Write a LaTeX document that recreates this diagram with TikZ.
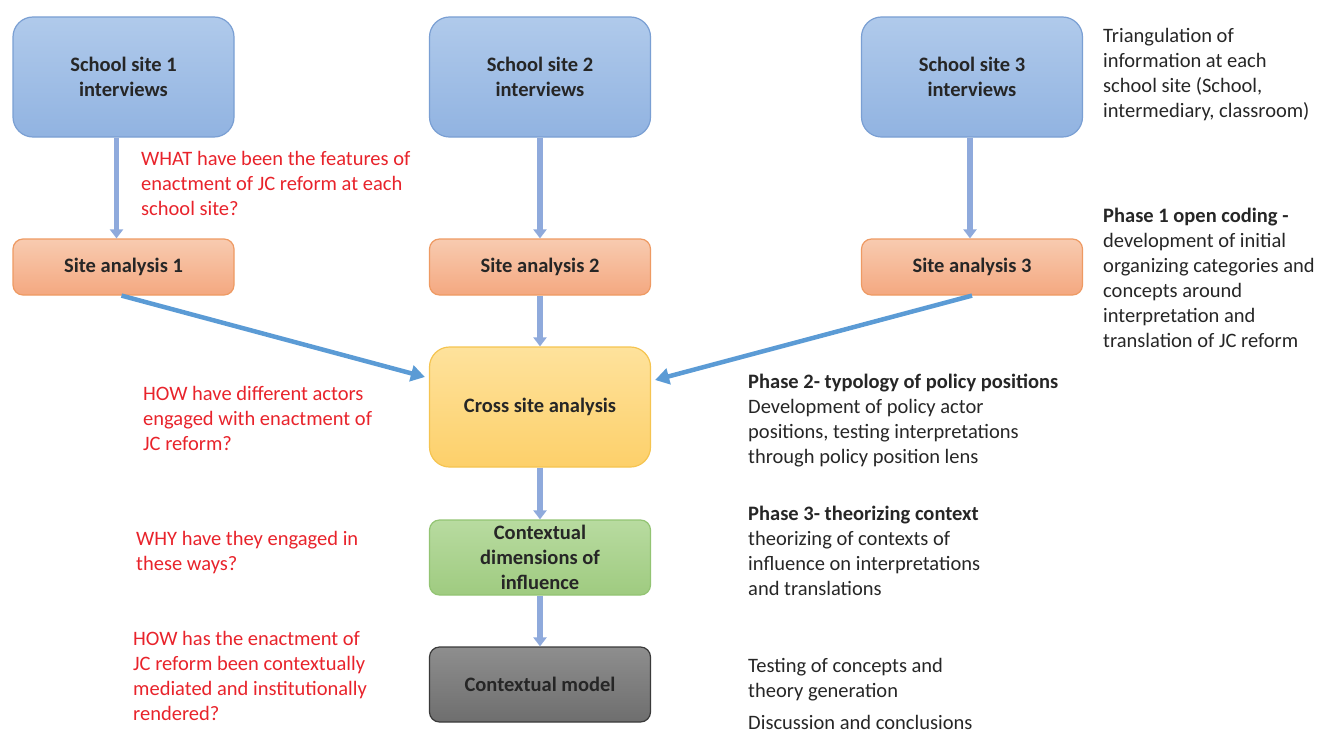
\documentclass[tikz,border=0pt]{standalone}
\usepackage{fontspec}
\setmainfont{Carlito}
\usetikzlibrary{arrows.meta}
\definecolor{txt}{HTML}{262626}
\definecolor{qred}{HTML}{E8232B}
\definecolor{bluetop}{HTML}{B0CAEB}
\definecolor{bluebot}{HTML}{91B3E1}
\definecolor{blueedge}{HTML}{7A9FD3}
\definecolor{ortop}{HTML}{F8CBB0}
\definecolor{orbot}{HTML}{F4A880}
\definecolor{oredge}{HTML}{EE9A63}
\definecolor{yetop}{HTML}{FEE29C}
\definecolor{yebot}{HTML}{FDD06A}
\definecolor{yeedge}{HTML}{F5C450}
\definecolor{grtop}{HTML}{B8DBA0}
\definecolor{grbot}{HTML}{9FCB80}
\definecolor{gredge}{HTML}{93C473}
\definecolor{gytop}{HTML}{8E8E8E}
\definecolor{gybot}{HTML}{6E6E6E}
\definecolor{gyedge}{HTML}{3A3A3A}
\definecolor{varrow}{HTML}{8FAADC}
\definecolor{darrow}{HTML}{5B9BD5}
\begin{document}
\begin{tikzpicture}[x=1pt,y=-1pt,
  every node/.style={font=\fontsize{20.5}{25}\selectfont, text=txt},
  boxbase/.style={rectangle, inner sep=0pt, minimum width=221pt, align=center, font=\fontsize{20.5}{25}\selectfont\bfseries, line width=1.2pt},
  schoolbox/.style={boxbase, minimum height=120pt, rounded corners=20pt, top color=bluetop, bottom color=bluebot, draw=blueedge},
  sitebox/.style={boxbase, minimum height=56pt, rounded corners=10pt, top color=ortop, bottom color=orbot, draw=oredge},
  crossbox/.style={boxbase, minimum height=120pt, rounded corners=20pt, top color=yetop, bottom color=yebot, draw=yeedge},
  ctxbox/.style={boxbase, minimum height=75pt, rounded corners=10pt, top color=grtop, bottom color=grbot, draw=gredge},
  modelbox/.style={boxbase, minimum height=75pt, rounded corners=10pt, top color=gytop, bottom color=gybot, draw=gyedge},
  vflow/.style={line width=5.5pt, draw=varrow, -{Triangle[width=13pt,length=9pt]}},
  dflow/.style={line width=4.5pt, draw=darrow, -{Triangle[width=16pt,length=14pt]}},
  question/.style={anchor=north west, inner sep=0pt, align=left, text=qred},
  note/.style={anchor=north west, inner sep=0pt, align=left, text=txt}
]
\useasboundingbox (0,0) rectangle (1321,733);

% boxes
\node[schoolbox] (s1) at (123.5,77) {School site 1\\interviews};
\node[schoolbox] (s2) at (540,77) {School site 2\\interviews};
\node[schoolbox] (s3) at (972,77) {School site 3\\interviews};
\node[sitebox] (a1) at (123.5,267) {Site analysis 1};
\node[sitebox] (a2) at (540,267) {Site analysis 2};
\node[sitebox] (a3) at (972,267) {Site analysis 3};
\node[crossbox] (cross) at (540,407) {Cross site analysis};
\node[ctxbox] (ctx) at (540,557.5) {Contextual\\dimensions of\\influence};
\node[modelbox] (model) at (540,684.5) {Contextual model};

% arrows
\draw[vflow] ([xshift=-7pt]s1.south) -- ([xshift=-7pt]a1.north);
\draw[vflow] (s2.south) -- (a2.north);
\draw[vflow] ([xshift=-2pt]s3.south) -- ([xshift=-2pt]a3.north);
\draw[vflow] (a2.south) -- (cross.north);
\draw[vflow] (cross.south) -- (ctx.north);
\draw[vflow] (ctx.south) -- (model.north);
\draw[dflow] ([xshift=-2pt]a1.south) -- ([xshift=-4pt,yshift=30pt]cross.west);
\draw[dflow] (a3.south) -- ([xshift=4pt,yshift=27pt]cross.east);

% questions
\node[question] (q1) at (141,151) {WHAT have been the features of\\enactment of JC reform at each\\school site?};
\node[question] (q2) at (143,386) {HOW have different actors\\engaged with enactment of\\JC reform?};
\node[question] (q3) at (136,531) {WHY have they engaged in\\these ways?};
\node[question] (q4) at (133,631) {HOW has the enactment of\\JC reform been contextually\\mediated and institutionally\\rendered?};

% notes
\node[note] (n0) at (1103,28) {Triangulation of\\information at each\\school site (School,\\intermediary, classroom)};
\node[note] (n1) at (1103,208) {\textbf{Phase 1 open coding -}\\development of initial\\organizing categories and\\concepts around\\interpretation and\\translation of JC reform};
\node[note] (n2) at (748,374) {\textbf{Phase 2- typology of policy positions}\\Development of policy actor\\positions, testing interpretations\\through policy position lens};
\node[note] (n3) at (748,506) {\textbf{Phase 3- theorizing context}\\theorizing of contexts of\\influence on interpretations\\and translations};
\node[note] (n4) at (748,658) {Testing of concepts and\\theory generation};
\node[note] (n5) at (748,715) {Discussion and conclusions};
\end{tikzpicture}
\end{document}
